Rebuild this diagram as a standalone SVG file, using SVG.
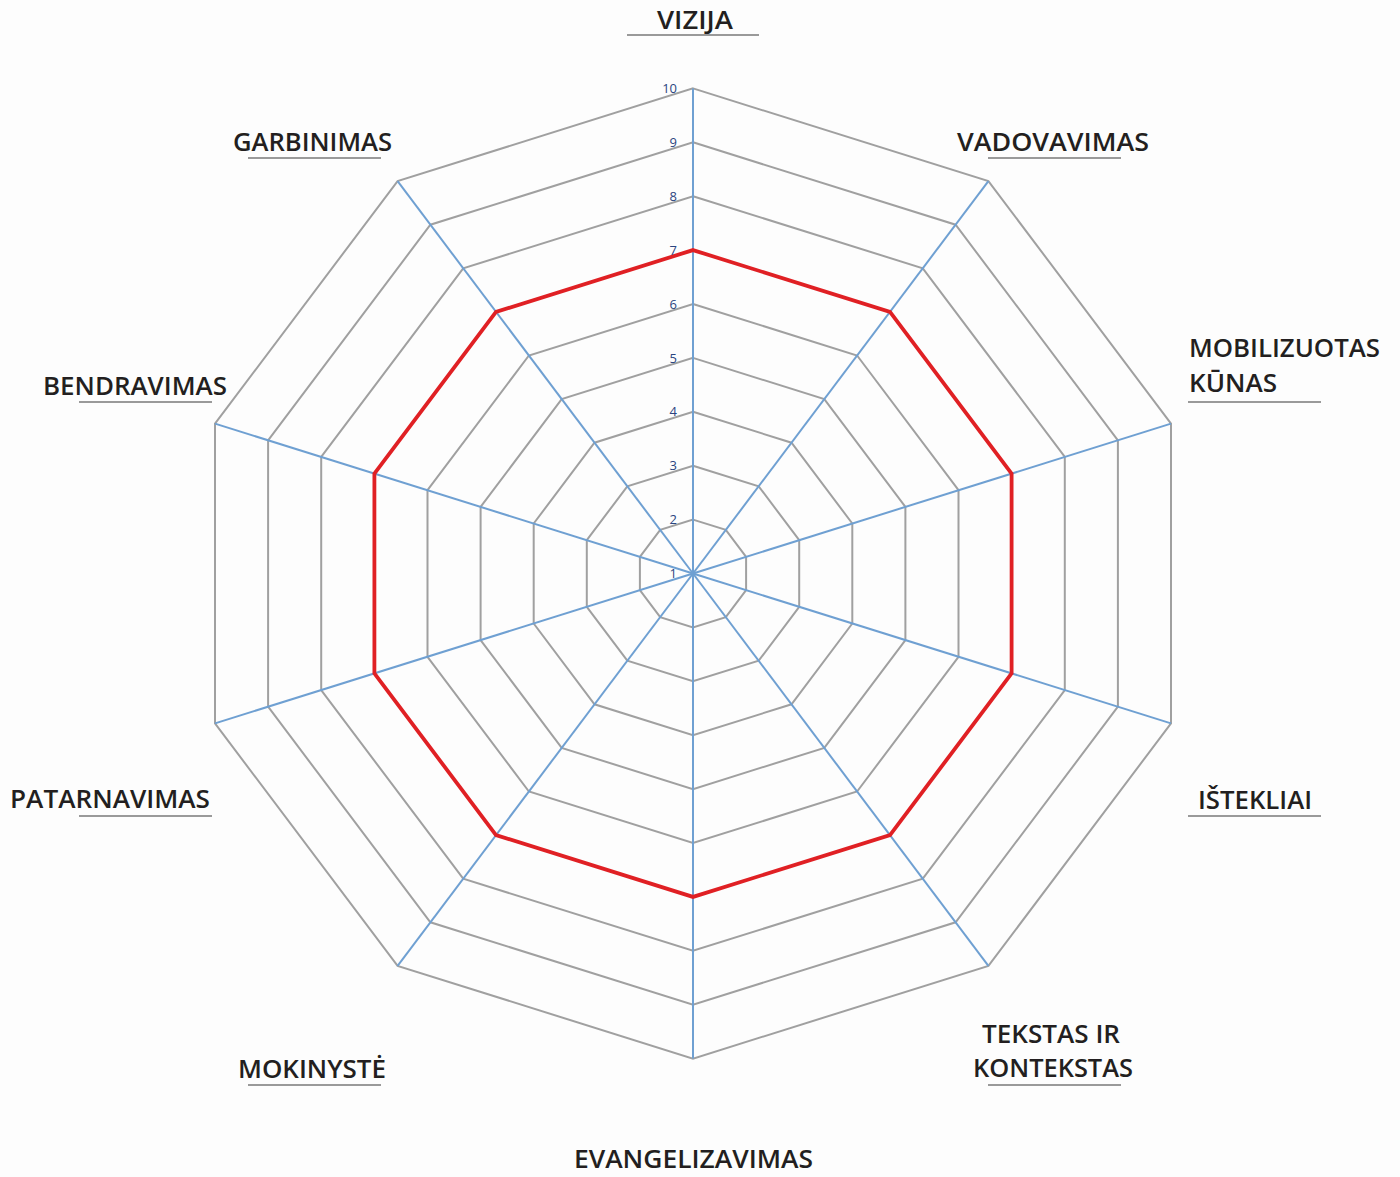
<svg xmlns="http://www.w3.org/2000/svg" width="1400" height="1177" viewBox="0 0 1400 1177">
<style>
.grid{fill:none;stroke:#a0a0a0;stroke-width:2;stroke-linejoin:miter}
.axis{stroke:#6fa0d2;stroke-width:2}
.val{fill:none;stroke:#e02024;stroke-width:3.8;stroke-linejoin:miter}
.tick{font-family:"Open Sans","Liberation Sans",sans-serif;font-size:13px;fill:#2b4580;text-anchor:end}
.lbl{font-family:"Open Sans","Liberation Sans",sans-serif;font-size:25px;font-weight:600;fill:#231f20}
.ul{stroke:#9a9a9a;stroke-width:2}
</style>
<rect width="1400" height="1177" fill="#fdfdfd"/>
<g id="grid" transform="translate(693 573.5)">
<polygon class="grid" points="0,-53.9 32.8,-43.6 53.1,-16.7 53.1,16.7 32.8,43.6 0,53.9 -32.8,43.6 -53.1,16.7 -53.1,-16.7 -32.8,-43.6"/>
<polygon class="grid" points="0,-107.8 65.7,-87.2 106.2,-33.3 106.2,33.3 65.7,87.2 0,107.8 -65.7,87.2 -106.2,33.3 -106.2,-33.3 -65.7,-87.2"/>
<polygon class="grid" points="0,-161.7 98.5,-130.8 159.3,-50 159.3,50 98.5,130.8 0,161.7 -98.5,130.8 -159.3,50 -159.3,-50 -98.5,-130.8"/>
<polygon class="grid" points="0,-215.6 131.3,-174.4 212.4,-66.6 212.4,66.6 131.3,174.4 0,215.6 -131.3,174.4 -212.4,66.6 -212.4,-66.6 -131.3,-174.4"/>
<polygon class="grid" points="0,-269.5 164.1,-218 265.5,-83.3 265.5,83.3 164.1,218 0,269.5 -164.1,218 -265.5,83.3 -265.5,-83.3 -164.1,-218"/>
<polygon class="grid" points="0,-323.4 197,-261.6 318.6,-99.9 318.6,99.9 197,261.6 0,323.4 -197,261.6 -318.6,99.9 -318.6,-99.9 -197,-261.6"/>
<polygon class="grid" points="0,-377.3 229.8,-305.2 371.8,-116.6 371.8,116.6 229.8,305.2 0,377.3 -229.8,305.2 -371.8,116.6 -371.8,-116.6 -229.8,-305.2"/>
<polygon class="grid" points="0,-431.2 262.6,-348.8 424.9,-133.2 424.9,133.2 262.6,348.8 0,431.2 -262.6,348.8 -424.9,133.2 -424.9,-133.2 -262.6,-348.8"/>
<polygon class="grid" points="0,-485.1 295.4,-392.4 478,-149.9 478,149.9 295.4,392.4 0,485.1 -295.4,392.4 -478,149.9 -478,-149.9 -295.4,-392.4"/>
</g>
<g id="connectors" transform="translate(693 573.5)">
<line class="axis" x1="0" y1="0" x2="0" y2="-485.1"/>
<line class="axis" x1="0" y1="0" x2="295.4" y2="-392.4"/>
<line class="axis" x1="0" y1="0" x2="478" y2="-149.9"/>
<line class="axis" x1="0" y1="0" x2="478" y2="149.9"/>
<line class="axis" x1="0" y1="0" x2="295.4" y2="392.4"/>
<line class="axis" x1="0" y1="0" x2="0" y2="485.1"/>
<line class="axis" x1="0" y1="0" x2="-295.4" y2="392.4"/>
<line class="axis" x1="0" y1="0" x2="-478" y2="149.9"/>
<line class="axis" x1="0" y1="0" x2="-478" y2="-149.9"/>
<line class="axis" x1="0" y1="0" x2="-295.4" y2="-392.4"/>
</g>
<g id="series" transform="translate(693 573.5)">
<polygon class="val" points="0,-323.4 197,-261.6 318.6,-99.9 318.6,99.9 197,261.6 0,323.4 -197,261.6 -318.6,99.9 -318.6,-99.9 -197,-261.6"/>
</g>
<g id="ticks">
<text class="tick" x="677" y="578">1</text>
<text class="tick" x="677" y="524">2</text>
<text class="tick" x="677" y="470">3</text>
<text class="tick" x="677" y="416">4</text>
<text class="tick" x="677" y="362.5">5</text>
<text class="tick" x="677" y="308.5">6</text>
<text class="tick" x="677" y="254.5">7</text>
<text class="tick" x="677" y="200.5">8</text>
<text class="tick" x="677" y="146.5">9</text>
<text class="tick" x="677" y="93">10</text>
</g>
<g id="vizija"><text class="lbl" x="657" y="29" textLength="76" lengthAdjust="spacingAndGlyphs">VIZIJA</text><line class="ul" x1="627" y1="35" x2="759" y2="35"/></g>
<g id="vadovavimas"><text class="lbl" x="957" y="151" textLength="192" lengthAdjust="spacingAndGlyphs">VADOVAVIMAS</text><line class="ul" x1="988" y1="158" x2="1121" y2="158"/></g>
<g id="mobilizuotas-kunas"><text class="lbl" x="1189" y="357" textLength="191" lengthAdjust="spacingAndGlyphs">MOBILIZUOTAS</text><text class="lbl" x="1189" y="392" textLength="88" lengthAdjust="spacingAndGlyphs">KŪNAS</text><line class="ul" x1="1188" y1="402" x2="1321" y2="402"/></g>
<g id="istekliai"><text class="lbl" x="1198" y="809" textLength="114" lengthAdjust="spacingAndGlyphs">IŠTEKLIAI</text><line class="ul" x1="1188" y1="816" x2="1321" y2="816"/></g>
<g id="tekstas-ir-kontekstas"><text class="lbl" x="982" y="1043" textLength="138" lengthAdjust="spacingAndGlyphs">TEKSTAS IR</text><text class="lbl" x="973" y="1077" textLength="160" lengthAdjust="spacingAndGlyphs">KONTEKSTAS</text><line class="ul" x1="988" y1="1085" x2="1121" y2="1085"/></g>
<g id="evangelizavimas"><text class="lbl" x="574" y="1168" textLength="239" lengthAdjust="spacingAndGlyphs">EVANGELIZAVIMAS</text></g>
<g id="mokinyste"><text class="lbl" x="238" y="1078" textLength="148" lengthAdjust="spacingAndGlyphs">MOKINYSTĖ</text><line class="ul" x1="248" y1="1085" x2="381" y2="1085"/></g>
<g id="patarnavimas"><text class="lbl" x="10" y="808" textLength="200" lengthAdjust="spacingAndGlyphs">PATARNAVIMAS</text><line class="ul" x1="79" y1="816" x2="212" y2="816"/></g>
<g id="bendravimas"><text class="lbl" x="43" y="395" textLength="184" lengthAdjust="spacingAndGlyphs">BENDRAVIMAS</text><line class="ul" x1="79" y1="402" x2="212" y2="402"/></g>
<g id="garbinimas"><text class="lbl" x="233" y="151" textLength="159" lengthAdjust="spacingAndGlyphs">GARBINIMAS</text><line class="ul" x1="248" y1="158" x2="381" y2="158"/></g>
</svg>
